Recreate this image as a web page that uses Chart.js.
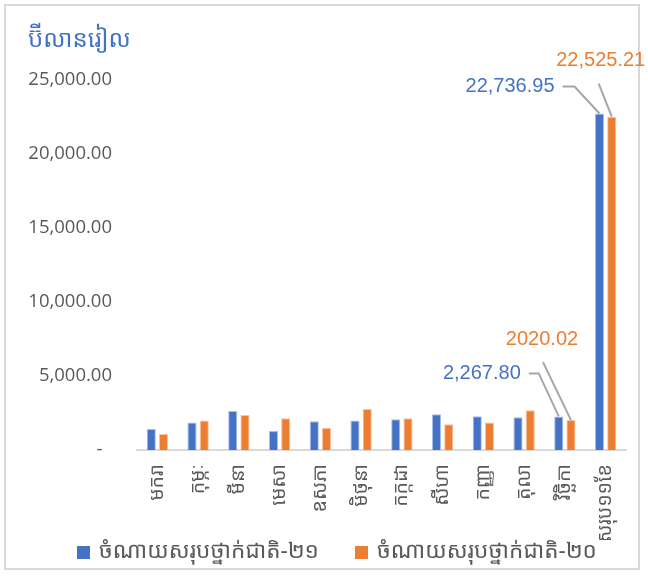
<!DOCTYPE html>
<html>
<head>
<meta charset="utf-8">
<script src="https://cdn.jsdelivr.net/npm/chart.js@4"></script>
<style>
  html, body { margin: 0; padding: 0; background: #fff; }
  #wrap { position: relative; width: 648px; height: 577px; }
  #frame { position: absolute; left: 4px; top: 4px; width: 636px; height: 566px; border: 2px solid #d9d9d9; box-sizing: border-box; }
  canvas { position: absolute; left: 0; top: 0; }
</style>
</head>
<body>
<div id="wrap">
  <div id="frame"></div>
  <canvas id="c" width="648" height="577"></canvas>
</div>
<script>
const categories = ['មករា','កុម្ភៈ','មីនា','មេសា','ឧសភា','មិថុនា','កក្កដា','សីហា','កញ្ញា','តុលា','វិច្ឆិកា','សរុប១១ខែ'];
const series21Name = 'ចំណាយសរុបថ្នាក់ជាតិ-២១';
const series20Name = 'ចំណាយសរុបថ្នាក់ជាតិ-២០';
const series21 = [1420, 1850, 2640, 1280, 1940, 2000, 2075, 2410, 2280, 2210, 2267.80, 22736.95];
const series20 = [1080, 2000, 2360, 2140, 1490, 2770, 2140, 1740, 1850, 2680, 2020.02, 22525.21];
const yTicks = [0, 5000, 10000, 15000, 20000, 25000];
const titleText = 'ប៊ីលានរៀល';
// labelled points: [dataset index, category index, text]
const callouts = [
  [0, 10, '2,267.80'],
  [1, 10, '2020.02'],
  [0, 11, '22,736.95'],
  [1, 11, '22,525.21']
];

const BLUE = '#4472C4', ORANGE = '#ED7D31';
const KH = "'Noto Sans Khmer', 'Khmer OS System', 'Khmer OS', 'Noto Sans', sans-serif";

const calloutPlugin = {
  id: 'callouts',
  afterDatasetsDraw(chart) {
    const ctx = chart.ctx;
    const layout = {
      '0-10': { tx: -38, ty: -43, align: 'right', line: [[-30,-43],[-20,-43]] },
      '1-10': { tx: -29, ty: -81, align: 'center', line: [[-28,-58]] },
      '0-11': { tx: -45, ty: -27, align: 'right', line: [[-37,-27],[-25,-27]] },
      '1-11': { tx: -11, ty: -56, align: 'center', line: [[-13,-33]] }
    };
    ctx.save();
    callouts.forEach(([ds, idx, text]) => {
      const el = chart.getDatasetMeta(ds).data[idx];
      const L = layout[ds + '-' + idx];
      const x = el.x, y = el.y;
      ctx.strokeStyle = '#a6a6a6';
      ctx.lineWidth = 2;
      ctx.beginPath();
      ctx.moveTo(x + L.line[0][0], y + L.line[0][1]);
      for (let i = 1; i < L.line.length; i++) ctx.lineTo(x + L.line[i][0], y + L.line[i][1]);
      ctx.lineTo(x, y);
      ctx.stroke();
      ctx.fillStyle = ds === 0 ? BLUE : ORANGE;
      ctx.font = "20px 'Liberation Sans', Arial, sans-serif";
      ctx.textAlign = L.align;
      ctx.textBaseline = 'middle';
      ctx.fillText(text, x + L.tx, y + L.ty);
    });
    ctx.restore();
  }
};

const titleLegendPlugin = {
  id: 'khTitleLegend',
  afterDraw(chart) {
    const ctx = chart.ctx;
    ctx.save();
    ctx.fillStyle = BLUE;
    ctx.font = "24px " + KH;
    ctx.textAlign = 'left';
    ctx.textBaseline = 'middle';
    ctx.fillText(titleText, 28, 40);
    // legend
    const starts = [77, 355];
    const cy = 552;
    ctx.font = "22.5px " + KH;
    chart.data.datasets.forEach((ds, i) => {
      ctx.fillStyle = ds.backgroundColor;
      ctx.fillRect(starts[i], cy - 6, 13, 13);
      ctx.fillStyle = '#595959';
      ctx.fillText(ds.label, starts[i] + 22, cy);
    });
    ctx.restore();
  }
};

new Chart(document.getElementById('c'), {
  type: 'bar',
  data: {
    labels: categories,
    datasets: [
      { label: series21Name, data: series21, backgroundColor: BLUE, borderColor: 'rgba(160,185,230,0.9)', borderWidth: 1, categoryPercentage: 0.6, barPercentage: 0.75 },
      { label: series20Name, data: series20, backgroundColor: ORANGE, borderColor: 'rgba(248,190,150,0.9)', borderWidth: 1, categoryPercentage: 0.6, barPercentage: 0.75 }
    ]
  },
  options: {
    responsive: false,
    animation: false,
    layout: { padding: { top: 80, right: 22, left: 0, bottom: 37 } },
    plugins: {
      legend: { display: false },
      tooltip: { enabled: false },
      title: { display: false }
    },
    scales: {
      x: {
        grid: { display: false },
        border: { display: true, color: '#d9d9d9', width: 2 },
        ticks: { color: '#595959', minRotation: 90, maxRotation: 90, autoSkip: false, font: { size: 19.5, family: KH }, padding: 6 },
        afterFit(scale) { scale.height = 90; }
      },
      y: {
        min: 0, max: 25000,
        afterBuildTicks(scale) { scale.ticks = yTicks.map(v => ({ value: v })); },
        grid: { display: false },
        border: { display: false },
        ticks: {
          color: '#595959', padding: 17,
          font: { size: 18.5, family: "'Open Sans', sans-serif" },
          callback: v => v === 0 ? '-  ' : v.toLocaleString('en-US', { minimumFractionDigits: 2, maximumFractionDigits: 2 })
        },
        afterFit(scale) { scale.width = 137; }
      }
    }
  },
  plugins: [calloutPlugin, titleLegendPlugin]
});
</script>
</body>
</html>
